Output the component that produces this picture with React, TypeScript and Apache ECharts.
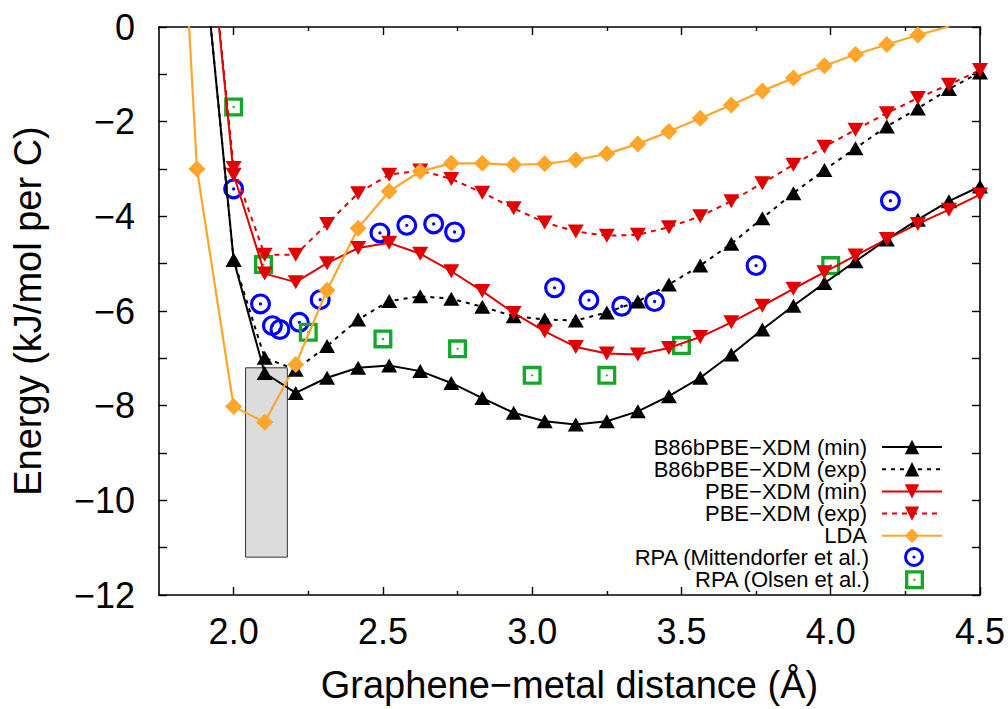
import React, { useEffect, useRef } from "react";
import * as echarts from "echarts";

// Distances (Å) for the XDM calculations
const X_CALC = [1.896, 2.0, 2.104, 2.208, 2.313, 2.417, 2.521, 2.625, 2.729, 2.833, 2.938, 3.042, 3.146, 3.25, 3.354, 3.458, 3.563, 3.667, 3.771, 3.875, 3.979, 4.083, 4.188, 4.292, 4.396, 4.5];
const B86_MIN = [1.77, -4.92, -7.31, -7.73, -7.41, -7.2, -7.15, -7.27, -7.52, -7.84, -8.15, -8.33, -8.4, -8.33, -8.12, -7.8, -7.41, -6.92, -6.39, -5.89, -5.41, -4.95, -4.49, -4.07, -3.68, -3.37];
const B86_EXP = [1.77, -4.92, -6.99, -7.24, -6.74, -6.18, -5.79, -5.69, -5.74, -5.91, -6.11, -6.18, -6.2, -6.03, -5.8, -5.44, -5.04, -4.58, -4.04, -3.51, -3.02, -2.56, -2.1, -1.72, -1.31, -0.96];
const PBE_MIN = [3.5, -3.12, -5.21, -5.39, -4.99, -4.67, -4.56, -4.79, -5.16, -5.58, -6.04, -6.43, -6.76, -6.9, -6.92, -6.78, -6.55, -6.24, -5.89, -5.53, -5.18, -4.83, -4.48, -4.16, -3.86, -3.54];
const PBE_EXP = [3.5, -2.98, -4.81, -4.81, -4.16, -3.51, -3.12, -3.03, -3.21, -3.5, -3.83, -4.13, -4.32, -4.41, -4.39, -4.23, -4.0, -3.68, -3.3, -2.91, -2.53, -2.17, -1.82, -1.5, -1.22, -0.91];

const X_LDA = [1.773, 1.877, 2.0, 2.104, 2.208, 2.313, 2.417, 2.521, 2.625, 2.729, 2.833, 2.938, 3.042, 3.146, 3.25, 3.354, 3.458, 3.563, 3.667, 3.771, 3.875, 3.979, 4.083, 4.188, 4.292, 4.396];
const LDA = [8.9, -3.0, -8.02, -8.35, -7.13, -5.56, -4.25, -3.47, -3.05, -2.88, -2.88, -2.91, -2.89, -2.81, -2.68, -2.47, -2.21, -1.93, -1.65, -1.35, -1.08, -0.82, -0.58, -0.37, -0.17, 0.01];

const X_MITT = [2.0, 2.09, 2.13, 2.155, 2.22, 2.29, 2.49, 2.58, 2.67, 2.74, 3.075, 3.19, 3.3, 3.41, 3.75, 4.2];
const MITT = [-3.42, -5.85, -6.31, -6.39, -6.24, -5.76, -4.35, -4.19, -4.16, -4.33, -5.51, -5.77, -5.9, -5.8, -5.04, -3.67];

const X_OLSEN = [2.0, 2.1, 2.25, 2.5, 2.75, 3.0, 3.25, 3.5, 4.0];
const OLSEN = [-1.69, -5.02, -6.45, -6.59, -6.8, -7.36, -7.36, -6.73, -5.04];

// Experimental range box: [xFrom, xTo, yLow, yHigh]
const BOX = [2.04, 2.18, -11.2, -7.2];

const X_MAJOR = [2.0, 2.5, 3.0, 3.5, 4.0, 4.5];
const X_MINOR = [2.25, 2.75, 3.25, 3.75, 4.25];

const NAMES = [
  "B86bPBE\u2212XDM (min)",
  "B86bPBE\u2212XDM (exp)",
  "PBE\u2212XDM (min)",
  "PBE\u2212XDM (exp)",
  "LDA",
  "RPA (Mittendorfer et al.)",
  "RPA (Olsen et al.)",
];

const FONT = "'Liberation Sans', Arial, Helvetica, sans-serif";
const RING =
  "path://M2 12 A10 10 0 1 1 22 12 A10 10 0 1 1 2 12 Z M5 12 A7 7 0 1 0 19 12 A7 7 0 1 0 5 12 Z M10.4 12 A1.6 1.6 0 1 1 13.6 12 A1.6 1.6 0 1 1 10.4 12 Z";
const SQUARE =
  "path://M0 0 L20 0 L20 20 L0 20 Z M3.5 3.5 L3.5 16.5 L16.5 16.5 L16.5 3.5 Z M9 9 L11 9 L11 11 L9 11 Z";
const DOWN_TRI = "path://M0 0 L16 0 L8 14 Z";

const RED = "#e00000";
const ORANGE = "#ffa62b";
const BLUE = "#0000ff";
const GREEN = "#14a82a";

const zip = (xs: number[], ys: number[]) => xs.map((x, i) => [x, ys[i]]);

export default function App() {
  const ref = useRef<HTMLDivElement>(null);
  useEffect(() => {
    if (!ref.current) return;
    const chart = echarts.init(ref.current, null, { renderer: "svg" });
    const axisLine = { show: true, onZero: false, lineStyle: { color: "#000", width: 1.6 } };
    const xBase = { type: "value", min: 1.75, max: 4.5, splitLine: { show: false } };
    const yBase = { type: "value", min: -12, max: 0, interval: 1, splitLine: { show: false } };
    const legendRow = (i: number, ih: number, right: number) => ({
      data: [NAMES[i]],
      right,
      top: 445 + 22.2 * i - ih / 2,
      align: "right",
      orient: "horizontal",
      itemWidth: 60,
      itemHeight: ih,
      itemGap: 0,
      padding: 0,
      selectedMode: false,
      textStyle: { fontSize: 22, lineHeight: 20, color: "#000", fontFamily: FONT, padding: [0, 10, 0, 0] },
    });
    const option: any = {
      animation: false,
      backgroundColor: "#fff",
      grid: { left: 159, right: 28, top: 27, bottom: 113, containLabel: false },
      xAxis: [
        {
          ...xBase,
          position: "bottom",
          axisLine,
          axisTick: { show: true, inside: true, length: 8, customValues: X_MAJOR, lineStyle: { color: "#000", width: 1.4 } },
          axisLabel: {
            show: true,
            customValues: X_MAJOR,
            margin: 18,
            fontSize: 36,
            color: "#000",
            fontFamily: FONT,
            formatter: (v: number) => v.toFixed(1),
          },
          name: "Graphene\u2212metal distance (\u00c5)",
          nameLocation: "middle",
          nameGap: 71,
          nameTextStyle: { fontSize: 38, color: "#000", fontFamily: FONT },
        },
        {
          ...xBase,
          position: "bottom",
          axisLine: { show: false, onZero: false },
          axisTick: { show: true, inside: true, length: 4, customValues: X_MINOR, lineStyle: { color: "#000", width: 1.4 } },
          axisLabel: { show: false },
        },
        {
          ...xBase,
          position: "top",
          axisLine,
          axisTick: { show: true, inside: true, length: 8, customValues: X_MAJOR, lineStyle: { color: "#000", width: 1.4 } },
          axisLabel: { show: false },
        },
        {
          ...xBase,
          position: "top",
          axisLine: { show: false, onZero: false },
          axisTick: { show: true, inside: true, length: 4, customValues: X_MINOR, lineStyle: { color: "#000", width: 1.4 } },
          axisLabel: { show: false },
        },
      ],
      yAxis: [
        {
          ...yBase,
          position: "left",
          axisLine,
          axisTick: { show: true, inside: true, length: 8, lineStyle: { color: "#000", width: 1.4 } },
          axisLabel: {
            show: true,
            margin: 24,
            fontSize: 36,
            color: "#000",
            fontFamily: FONT,
            formatter: (v: number) => (v % 2 !== 0 ? "" : v < 0 ? "\u2212" + Math.abs(v) : String(v)),
          },
          name: "Energy (kJ/mol per C)",
          nameLocation: "middle",
          nameGap: 112,
          nameTextStyle: { fontSize: 38, color: "#000", fontFamily: FONT },
        },
        {
          ...yBase,
          position: "right",
          axisLine,
          axisTick: { show: true, inside: true, length: 8, lineStyle: { color: "#000", width: 1.4 } },
          axisLabel: { show: false },
        },
      ],
      legend: [
        legendRow(0, 18, 65),
        legendRow(1, 18, 65),
        legendRow(2, 18, 65),
        legendRow(3, 18, 65),
        legendRow(4, 18, 65),
        legendRow(5, 20, 84),
        legendRow(6, 19, 84),
      ],
      series: [
        {
          name: NAMES[0],
          type: "line",
          data: zip(X_CALC, B86_MIN),
          symbol: "triangle",
          symbolSize: [16, 14],
          itemStyle: { color: "#000" },
          lineStyle: { color: "#000", width: 2 },
          markArea: {
            silent: true,
            z: 1,
            itemStyle: { color: "#dcdcdc", borderColor: "#333", borderWidth: 1 },
            data: [[{ coord: [BOX[0], BOX[3]] }, { coord: [BOX[1], BOX[2]] }]],
          },
        },
        {
          name: NAMES[1],
          type: "line",
          data: zip(X_CALC, B86_EXP),
          symbol: "triangle",
          symbolSize: [16, 14],
          itemStyle: { color: "#000" },
          lineStyle: { color: "#000", width: 2, type: [4, 5] },
        },
        {
          name: NAMES[2],
          type: "line",
          data: zip(X_CALC, PBE_MIN),
          symbol: DOWN_TRI,
          symbolSize: [16, 14],
          itemStyle: { color: RED },
          lineStyle: { color: RED, width: 2 },
        },
        {
          name: NAMES[3],
          type: "line",
          data: zip(X_CALC, PBE_EXP),
          symbol: DOWN_TRI,
          symbolSize: [16, 14],
          itemStyle: { color: RED },
          lineStyle: { color: RED, width: 2, type: [5, 5] },
        },
        {
          name: NAMES[4],
          type: "line",
          data: zip(X_LDA, LDA),
          symbol: "diamond",
          symbolSize: 17,
          itemStyle: { color: ORANGE },
          lineStyle: { color: ORANGE, width: 2.2 },
        },
        {
          name: NAMES[5],
          type: "scatter",
          data: zip(X_MITT, MITT),
          symbol: RING,
          symbolSize: 21,
          itemStyle: { color: BLUE, opacity: 1 },
        },
        {
          name: NAMES[6],
          type: "scatter",
          data: zip(X_OLSEN, OLSEN),
          symbol: SQUARE,
          symbolSize: 19,
          itemStyle: { color: GREEN, opacity: 1 },
        },
      ],
    };
    chart.setOption(option);
    return () => chart.dispose();
  }, []);
  return (
    <div
      ref={ref}
      style={{ position: "fixed", left: 0, top: 0, width: 1008, height: 709, background: "#fff" }}
    />
  );
}
